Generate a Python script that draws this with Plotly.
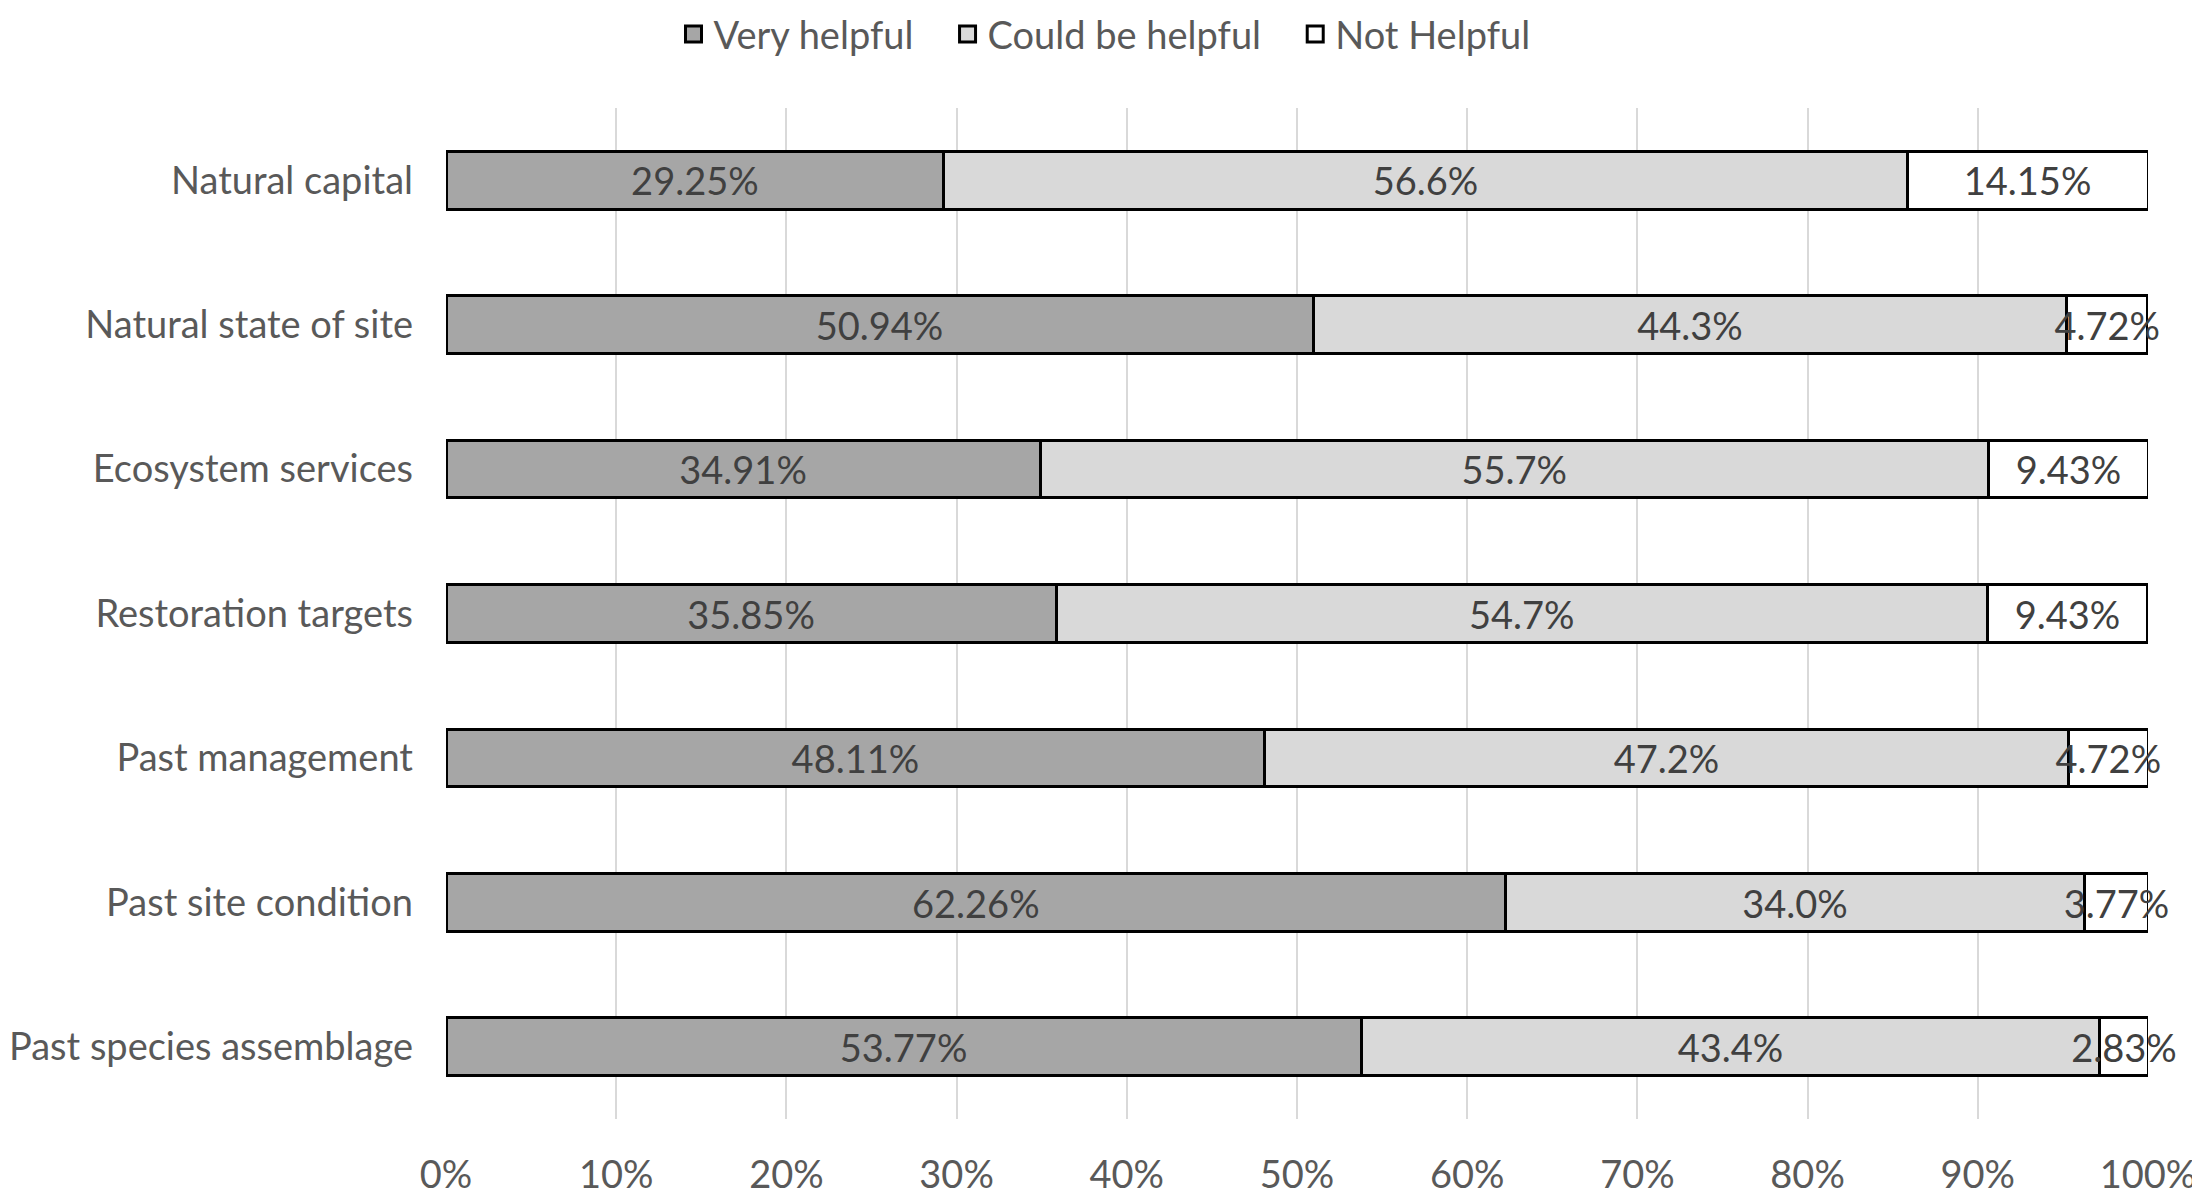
import plotly.graph_objects as go

# ── Datos de la encuesta ──────────────────────────────────
categorias = ["Natural capital", "Natural state of site", "Ecosystem services",
              "Restoration targets", "Past management", "Past site condition",
              "Past species assemblage"]
very_helpful = [29.25, 50.94, 34.91, 35.85, 48.11, 62.26, 53.77]
could_be     = [56.6, 44.3, 55.7, 54.7, 47.2, 34.0, 43.4]
not_helpful  = [14.15, 4.72, 9.43, 9.43, 4.72, 3.77, 2.83]

x_ticks = [0, 10, 20, 30, 40, 50, 60, 70, 80, 90, 100]
x_labels = [f"{t}%" for t in x_ticks]

FONT = "Lato, 'Open Sans', sans-serif"
SIZE = 38
PAD = "\u00a0" * 3   # espacio extra entre entradas de la leyenda

series = [
    ("Very helpful", very_helpful, "#A6A6A6", "{:.2f}%"),
    ("Could be helpful", could_be, "#D9D9D9", "{:.1f}%"),
    ("Not Helpful", not_helpful, "#FFFFFF", "{:.2f}%"),
]

pos = list(range(len(categorias)))

fig = go.Figure()
base = [0.0] * len(categorias)
for nombre, vals, color, fmt in series:
    fig.add_trace(go.Bar(
        y=pos, x=vals, name=nombre, orientation="h", showlegend=False,
        marker=dict(color=color, line=dict(color="#000000", width=3)),
    ))
    # etiquetas centradas en cada segmento (un poco bajadas, como en Excel)
    fig.add_trace(go.Scatter(
        y=[p + 0.04 for p in pos], x=[b + v / 2 for b, v in zip(base, vals)],
        mode="text", text=[fmt.format(v) for v in vals],
        textposition="middle center", showlegend=False, hoverinfo="skip",
        textfont=dict(family=FONT, size=SIZE, color="#404040"),
        cliponaxis=False,
    ))
    # entrada de leyenda con cuadro
    fig.add_trace(go.Scatter(
        x=[None], y=[None], mode="markers", name=nombre + PAD,
        marker=dict(symbol="square", size=16, color=color,
                    line=dict(color="#000000", width=3)),
    ))
    base = [b + v for b, v in zip(base, vals)]

fig.update_layout(
    barmode="stack", bargap=0.6,
    width=2200, height=1200,
    margin=dict(l=438, r=54, t=100, b=71),
    plot_bgcolor="white", paper_bgcolor="white",
    font=dict(family=FONT, size=SIZE, color="#595959"),
    legend=dict(orientation="h", xref="container", yref="container",
                x=0.505, xanchor="center", y=0.978, yanchor="middle",
                font=dict(size=SIZE, color="#595959"), traceorder="normal",
                itemwidth=30),
    xaxis=dict(range=[0, 100], tickvals=x_ticks, ticktext=x_labels,
               showgrid=True, gridcolor="#D9D9D9", gridwidth=2,
               zeroline=False, showline=False, ticks="", ticklabelstandoff=30),
    yaxis=dict(range=[len(categorias) - 0.5, -0.5], tickvals=pos, ticktext=categorias,
               showgrid=False, zeroline=False, showline=False, ticks="",
               ticklabelstandoff=32, automargin=False),
)

fig.write_html("out.html")
